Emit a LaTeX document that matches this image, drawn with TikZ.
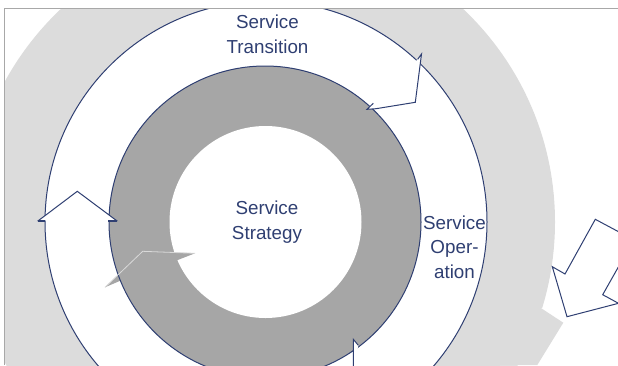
\documentclass[tikz,border=0pt]{standalone}
\usepackage{fontspec}
\setmainfont{Liberation Sans}
\definecolor{ringlight}{HTML}{DCDCDC}
\definecolor{ringdark}{HTML}{A6A6A6}
\definecolor{navy}{HTML}{2F3F72}
\definecolor{framegray}{HTML}{A8A8A8}
\tikzset{
  outline/.style={draw=navy,line width=1pt,line join=miter},
  openarrow/.style={outline,fill=white},
  ringlabel/.style={align=center,text=navy,inner sep=0pt,font=\fontsize{18.8}{24.6}\selectfont},
  frameline/.style={draw=framegray,line width=1pt}
}
\begin{document}
\begin{tikzpicture}[x=1pt,y=-1pt]
\useasboundingbox (0,0) rectangle (618,365);
\begin{scope}
\clip (4,8) rectangle (618,365);
% outer light ring with arrow head
\fill[ringlight] (262,222) circle[radius=293pt];
\fill[white] (541.3,308.3) -- (618,340) -- (618,365) -- (500,365) -- cycle;
\fill[ringlight] (541.3,308.3) -- (563.3,322.7) -- (537.3,365) -- (430,365) -- (430,300) -- cycle;
% middle circle
\filldraw[outline,fill=white] (266,222) circle[radius=221pt];
% gray pointer tip outside the dark ring
\fill[ringdark] (105,287.3) -- (142.7,251.3) -- (195,253.3) -- (177.7,260) -- (160,270) -- (122,280) -- cycle;
% dark ring
\filldraw[outline,fill=ringdark] (265,222) circle[radius=156pt];
\fill[white] (265.5,222) circle[radius=96pt];
\fill[ringdark] (142.7,251.3) -- (195,253.3) -- (177.7,260) -- (160,275) -- (125,275) -- cycle;
\draw[white!85!black,line width=0.8pt] (105,287.3) -- (142.7,251.3) -- (195,253.3);
% open arrows
\filldraw[openarrow] (373.3,103.3) -- (367,109.3) -- (376,108.7) -- (415.3,102.3) -- (421.5,54) -- (417.7,59.3);
\filldraw[openarrow] (45,220.7) -- (38.3,220.7) -- (77.3,191.3) -- (116.7,220.7) -- (108,220.7);
\draw[navy,line width=1.6pt] (38.3,220.7) -- (45,220.7) (108,220.7) -- (116.7,220.7);
\filldraw[openarrow] (358.3,345.3) -- (353.3,339.3) -- (353.3,370);
\filldraw[openarrow] (618.5,231.7) -- (595.3,219.3) -- (565,274) -- (552.3,266.7) -- (567,316.7) -- (618.5,303.3) -- (602.7,294.7) -- (618.5,266.7);
\end{scope}
% frame
\draw[frameline] (4,365) -- (4,8) -- (618,8);
% labels
\node[ringlabel] (transition) at (267.5,34.5) {Service\\Transition};
\node[ringlabel] (strategy) at (267,222) {Service\\Strategy};
\node[ringlabel] (operation) at (454.5,247) {Service\\Oper-\\ation};
\end{tikzpicture}
\end{document}
